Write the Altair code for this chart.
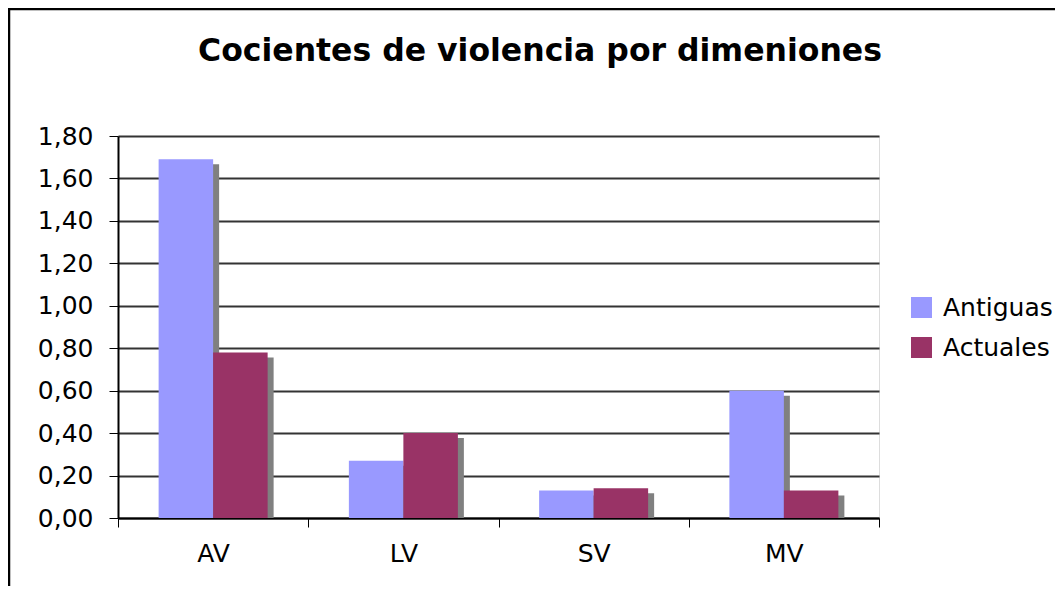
import altair as alt
import pandas as pd

# ---- data ----
categories = ["AV", "LV", "SV", "MV"]
series = ["Antiguas", "Actuales"]
antiguas = [1.69, 0.27, 0.13, 0.60]
actuales = [0.78, 0.40, 0.14, 0.13]
y_ticks = [0.0, 0.2, 0.4, 0.6, 0.8, 1.0, 1.2, 1.4, 1.6, 1.8]
title_text = "Cocientes de violencia por dimeniones"
colors = ["#9999FF", "#993366"]

rows = []
for c, a, b in zip(categories, antiguas, actuales):
    rows.append({"cat": c, "serie": series[0], "valor": a})
    rows.append({"cat": c, "serie": series[1], "valor": b})
df = pd.DataFrame(rows)

FONT = "DejaVu Sans"
W, H = 761, 382
BW = 54.5
HALF = BW / 2
SH_X, SH_Y = 6, 5

x_enc = alt.X(
    "cat:N",
    sort=categories,
    scale=alt.Scale(paddingInner=0, paddingOuter=0),
    axis=alt.Axis(
        title=None, labelAngle=0, tickBand="extent", labelFont=FONT,
        labelFontSize=25, labelColor="black", labelPadding=14,
        tickColor="black", tickSize=9, domainColor="black", domainWidth=2,
        grid=False,
    ),
)
y_enc = alt.Y(
    "valor:Q",
    stack=None,
    scale=alt.Scale(domain=[0, 1.8], nice=False),
    axis=alt.Axis(
        title=None, values=y_ticks, labelFont=FONT, labelFontSize=25,
        labelColor="black", labelPadding=16, tickColor="black", tickSize=9,
        domainColor="black", domainWidth=2, gridColor="#333333",
        gridWidth=1.8,
        labelExpr="replace(format(datum.value, '.2f'), '.', ',')",
    ),
)
color_enc = alt.Color(
    "serie:N",
    scale=alt.Scale(domain=series, range=colors),
    legend=alt.Legend(
        title=None, orient="none", legendX=791, legendY=159,
        symbolType="square", symbolSize=441, symbolStrokeWidth=0,
        labelFont=FONT, labelFontSize=25, labelColor="black",
        labelOffset=9, rowPadding=14, padding=0,
    ),
)

base = alt.Chart(df)

layers = []
offsets = [-HALF, HALF]
for s, off in zip(series, offsets):
    layers.append(
        base.transform_filter(alt.datum.serie == s)
        .mark_bar(width=BW, xOffset=off + SH_X, yOffset=SH_Y,
                  color="#808080", clip=True)
        .encode(x=x_enc, y=y_enc)
    )
for s, off in zip(series, offsets):
    layers.append(
        base.transform_filter(alt.datum.serie == s)
        .mark_bar(width=BW, xOffset=off)
        .encode(x=x_enc, y=y_enc, color=color_enc)
    )

title_layer = alt.Chart(pd.DataFrame({"t": [title_text]})).mark_text(
    font=FONT, fontSize=31.5, fontWeight="bold", color="black",
    align="center", baseline="alphabetic",
).encode(text="t:N", x=alt.value(422), y=alt.value(-75))

frame_df = pd.DataFrame({"k": [0]})
frame_left = alt.Chart(frame_df).mark_rule(color="black", strokeWidth=2.5, clip=False).encode(
    x=alt.value(-109), y=alt.value(-127), y2=alt.value(470)
)
frame_top = alt.Chart(frame_df).mark_rule(color="black", strokeWidth=2.5, clip=False).encode(
    x=alt.value(-110), x2=alt.value(940), y=alt.value(-127)
)

chart = alt.layer(*layers, title_layer, frame_left, frame_top).properties(
    width=W, height=H,
    padding={"left": 110, "top": 128, "right": 176, "bottom": 68},
    autosize=alt.AutoSizeParams(type="none"),
).configure_view(
    fill="#CCCCCC", stroke="#808080", strokeWidth=2
).configure(background="white")

chart.save("out.html", embed_options={"renderer": "svg", "actions": False})
